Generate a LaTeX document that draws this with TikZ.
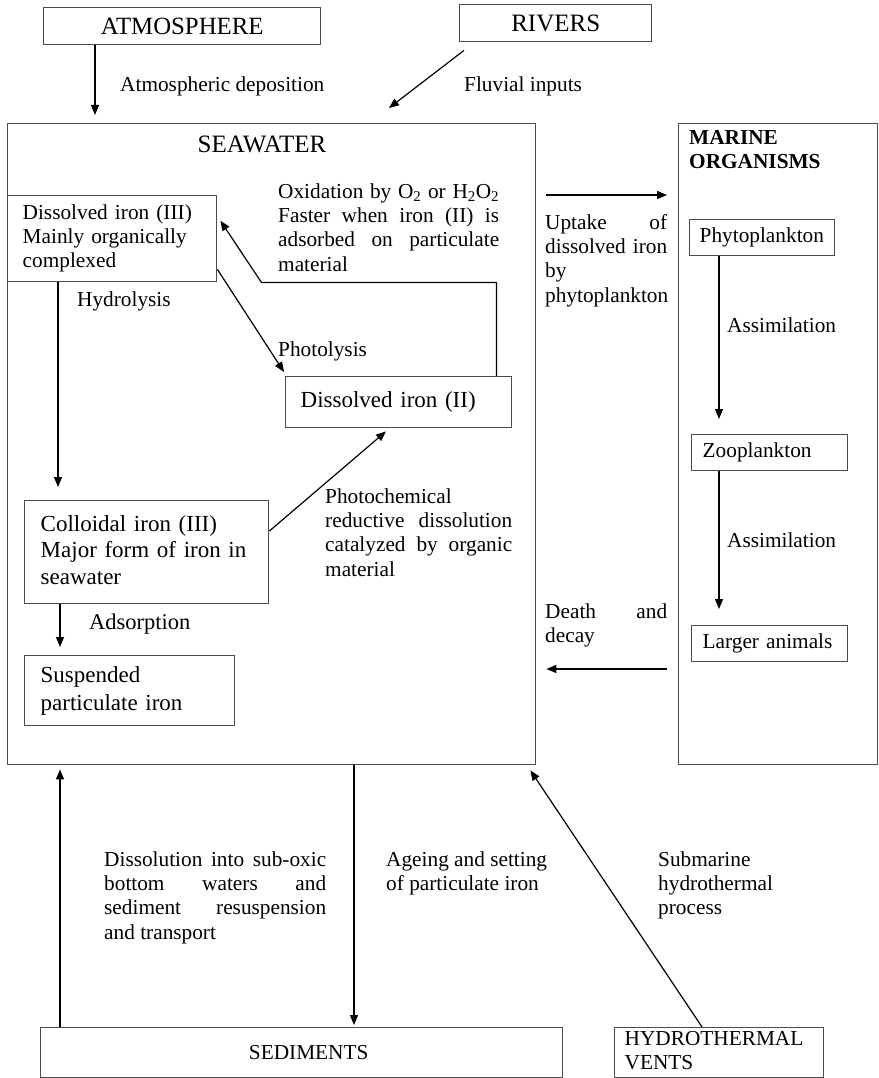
\documentclass[tikz,border=0pt]{standalone}
\usepackage{fontspec}
\setmainfont{Liberation Serif}
\usetikzlibrary{arrows.meta,calc}
\newcommand{\bodyfs}{\fontsize{21.3}{24.3}\selectfont}
\newcommand{\boxfs}{\fontsize{23}{26.5}\selectfont}
\newcommand{\headfs}{\fontsize{25}{28}\selectfont}
\newcommand{\jl}[2]{\makebox[#1][s]{#2}}
\begin{document}
\begin{tikzpicture}[x=1pt,y=-1pt,
  box/.style={draw=black!70, line width=1.4pt, inner ysep=0pt, inner xsep=0pt, anchor=north west},
  tbox/.style={box, align=left, font=\bodyfs},
  arr/.style={-{Triangle[length=10pt,width=8pt]}, line width=1.2pt},
  lbl/.style={anchor=north west, inner sep=0pt, align=left, font=\bodyfs}]
\fill[white] (0,0) rectangle (878,1078);
\useasboundingbox (0,0) rectangle (878,1078);

% containers
\node[box, minimum width=528pt, minimum height=641pt] (sea) at (7,123) {};
\node[box, minimum width=199pt, minimum height=641pt] (mar) at (678,123) {};
\node[font=\headfs] (seat) at (262,144) {SEAWATER};
\node[lbl, font=\bodyfs\bfseries] (mart) at (689,127) {\strut MARINE\\\strut ORGANISMS};

% top boxes
\node[box, font=\fontsize{24.8}{28}\selectfont, minimum width=277pt, minimum height=37pt] (atm) at (43,7) {ATMOSPHERE};
\node[box, font=\fontsize{25}{28}\selectfont, minimum width=192pt, minimum height=37pt] (riv) at (459,4) {RIVERS};

% seawater boxes
\node[tbox, text width=179pt, inner xsep=15pt, minimum height=86pt] (d3) at (7,195)
  {\strut Dissolved iron (III)\\\strut Mainly organically\\\strut complexed};
\node[tbox, font=\boxfs, text width=196pt, inner xsep=15pt, minimum height=51pt] (d2) at (285,376)
  {Dissolved iron (II)};
\node[tbox, font=\boxfs, text width=212pt, inner xsep=16pt, minimum height=103pt] (col) at (24,500)
  {\strut Colloidal iron (III)\\\strut Major form of iron in\\\strut seawater};
\node[tbox, font=\fontsize{23}{28}\selectfont, text width=178pt, inner xsep=16pt, minimum height=70pt] (sus) at (24,655)
  {\strut Suspended\\\strut particulate iron};

% marine boxes
\node[tbox, text width=125pt, inner xsep=10pt, minimum height=36pt] (phy) at (689,219) {Phytoplankton};
\node[tbox, text width=134pt, inner xsep=11pt, minimum height=36pt] (zoo) at (691,434) {Zooplankton};
\node[tbox, text width=134pt, inner xsep=11pt, minimum height=36pt] (lar) at (691,625) {Larger animals};

% bottom boxes
\node[box, font=\bodyfs, minimum width=522pt, minimum height=50pt] (sed) at (40,1027) {\hspace*{14pt}SEDIMENTS};
\node[tbox, text width=189pt, inner xsep=10pt, minimum height=50pt] (ven) at (614,1027)
  {\strut HYDROTHERMAL\\\strut VENTS};

% labels
\node[lbl] (l1) at (120,74) {\strut Atmospheric deposition};
\node[lbl] (l2) at (464,74) {\strut Fluvial inputs};
\node[lbl] (ox) at (278,181) {\strut\jl{221pt}{Oxidation by O\textsubscript{2} or H\textsubscript{2}O\textsubscript{2}}\\\strut\jl{221pt}{Faster when iron (II) is}\\\strut\jl{221pt}{adsorbed on particulate}\\\strut material};
\node[lbl] (hy) at (77,289) {\strut Hydrolysis};
\node[lbl] (ph) at (278,339) {\strut Photolysis};
\node[lbl] (pc) at (325,486) {\strut Photochemical\\\strut\jl{187pt}{reductive dissolution}\\\strut\jl{187pt}{catalyzed by organic}\\\strut material};
\node[lbl, font=\fontsize{22.5}{26}\selectfont] (ad) at (89,611) {\strut Adsorption};
\node[lbl] (up) at (545,212) {\strut\jl{122pt}{Uptake of}\\\strut\jl{122pt}{dissolved iron}\\\strut by\\\strut phytoplankton};
\node[lbl] (as1) at (727,315) {\strut Assimilation};
\node[lbl] (as2) at (727,530) {\strut Assimilation};
\node[lbl] (dd) at (545,601) {\strut\jl{122pt}{Death and}\\\strut decay};
\node[lbl] (ds) at (104,849) {\strut\jl{222pt}{Dissolution into sub-oxic}\\\strut\jl{222pt}{bottom waters and}\\\strut\jl{222pt}{sediment resuspension}\\\strut and transport};
\node[lbl] (ag) at (386,849) {\strut Ageing and setting\\\strut of particulate iron};
\node[lbl] (sm) at (658,849) {\strut Submarine\\\strut hydrothermal\\\strut process};

% connectors
\draw[arr] ([xshift=52pt]atm.south west) -- ([xshift=88pt,yshift=8pt]sea.north west);
\draw[arr] ([xshift=5pt,yshift=-8pt]riv.south west) -- ([xshift=382pt,yshift=15pt]sea.north west);
\draw[arr] ([xshift=-16pt]d2.north east) |- ([xshift=44pt]d3.south east) -- ([xshift=3pt,yshift=18pt]d3.east);
\draw[arr] ([yshift=13pt]d3.south east) -- ([xshift=-1pt,yshift=4pt]d2.north west);
\draw[arr] ([xshift=51pt]d3.south west) -- ([xshift=34pt,yshift=13pt]col.north west);
\draw[arr] ([yshift=-31pt]col.north east) -- ([xshift=101pt,yshift=-3pt]d2.south west);
\draw[arr] ([xshift=36pt]col.south west) -- ([xshift=36pt,yshift=8pt]sus.north west);
\draw[arr] ([xshift=10pt,yshift=-72pt]sea.north east) -- ([xshift=-11pt,yshift=-72pt]mar.north west);
\draw[arr] ([xshift=30pt]phy.south west) -- ([xshift=28pt,yshift=15pt]zoo.north west);
\draw[arr] ([xshift=28pt]zoo.south west) -- ([xshift=28pt,yshift=16pt]lar.north west);
\draw[arr] ([xshift=-11pt,yshift=-546pt]mar.north west) -- ([xshift=10pt,yshift=-546pt]sea.north east);
\draw[arr] ([xshift=20pt]sed.north west) -- ([xshift=53pt,yshift=-4pt]sea.south west);
\draw[arr] ([xshift=347pt]sea.south west) -- ([xshift=314pt,yshift=2pt]sed.north west);
\draw[arr] ([xshift=88pt]ven.north west) -- ([xshift=-6pt,yshift=-5pt]sea.south east);
\end{tikzpicture}
\end{document}
